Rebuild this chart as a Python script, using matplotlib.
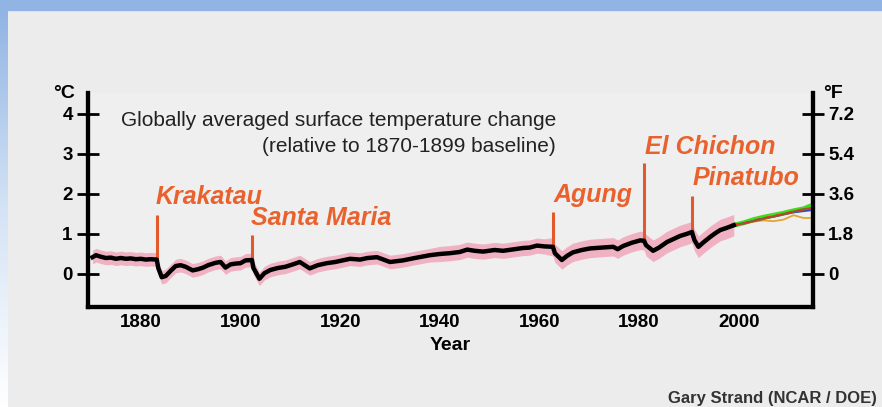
import numpy as np
import matplotlib
matplotlib.use('Agg')
import matplotlib.pyplot as plt
from matplotlib.colors import LinearSegmentedColormap

plt.rcParams['font.family'] = ['Liberation Sans', 'DejaVu Sans']

# observed global temperature change (deg C, relative to 1870-1899)
temp_years = [1870.3, 1871, 1872, 1873, 1874, 1875, 1876, 1877, 1878, 1879,
              1880, 1881, 1882, 1883.2, 1883.5, 1884.2, 1885, 1886, 1887, 1888,
              1889, 1890.4, 1891.5, 1892.5, 1893.5, 1895, 1896, 1897, 1898, 1899,
              1900, 1901, 1902.3, 1902.6, 1903.8, 1904.8, 1906, 1907.5, 1909, 1910.5,
              1911.9, 1913.9, 1915.5, 1917.3, 1919, 1922, 1924, 1925.5, 1927.4, 1930,
              1932.6, 1935, 1938, 1940, 1942, 1944, 1945.5, 1947, 1948.7, 1951,
              1952.7, 1955, 1956.7, 1958, 1959.5, 1961, 1962.7, 1963.1, 1964.5, 1965.5,
              1966.7, 1968.5, 1970.2, 1972.5, 1974.8, 1975.7, 1976.8, 1978.5, 1980.2, 1981,
              1981.4, 1982.8, 1984, 1985.6, 1987, 1988.2, 1989.5, 1990.6, 1991.1, 1991.9,
              1993, 1994.3, 1995.3, 1996.3, 1997.5, 1999]
temp_vals = [0.42, 0.47, 0.43, 0.40, 0.41, 0.38, 0.40, 0.38, 0.39, 0.37,
             0.38, 0.36, 0.37, 0.36, 0.15, -0.08, -0.05, 0.08, 0.20, 0.22,
             0.18, 0.09, 0.12, 0.16, 0.22, 0.28, 0.30, 0.16, 0.24, 0.26,
             0.27, 0.34, 0.35, 0.15, -0.12, 0.02, 0.10, 0.15, 0.18, 0.24,
             0.30, 0.14, 0.22, 0.27, 0.30, 0.38, 0.36, 0.40, 0.42, 0.30,
             0.34, 0.40, 0.47, 0.50, 0.52, 0.55, 0.61, 0.58, 0.56, 0.60,
             0.58, 0.62, 0.65, 0.66, 0.71, 0.69, 0.68, 0.52, 0.35, 0.45,
             0.54, 0.60, 0.64, 0.66, 0.68, 0.62, 0.70, 0.78, 0.84, 0.83,
             0.72, 0.58, 0.66, 0.80, 0.88, 0.95, 1.00, 1.05, 0.85, 0.68,
             0.80, 0.93, 1.02, 1.10, 1.15, 1.22]
band_half = [0.17] * 53 + [0.19] * 13 + [0.23] * 14 + [0.27] * 16

# model projections after 2000
proj_years = [1999, 2001, 2003, 2005, 2007, 2009, 2011, 2013, 2015]
proj_green = [1.22, 1.28, 1.36, 1.42, 1.47, 1.52, 1.58, 1.63, 1.73]
proj_brown = [1.22, 1.26, 1.32, 1.38, 1.44, 1.50, 1.56, 1.62, 1.65]
proj_red = [1.22, 1.27, 1.34, 1.40, 1.45, 1.49, 1.56, 1.60, 1.64]
proj_blue = [1.22, 1.27, 1.33, 1.39, 1.43, 1.49, 1.54, 1.57, 1.60]
proj_orange = [1.22, 1.27, 1.31, 1.34, 1.32, 1.36, 1.47, 1.40, 1.40]

# eruptions
volcanoes = ['Krakatau', 'Santa Maria', 'Agung', 'El Chichon', 'Pinatubo']
volcano_years = [1883.2, 1902.4, 1962.8, 1981.0, 1990.7]
volcano_base = [0.36, 0.35, 0.68, 0.83, 1.05]
volcano_top = [1.48, 0.98, 1.56, 2.78, 1.95]
label_x = [1883.0, 1902.2, 1962.9, 1981.2, 1990.8]
label_y = [1.93, 1.40, 1.98, 3.18, 2.40]

c_ticks = [0, 1, 2, 3, 4]
f_labels = ['0', '1.8', '3.6', '5.4', '7.2']
year_ticks = [1880, 1900, 1920, 1940, 1960, 1980, 2000]

W, H = 882, 407
fig = plt.figure(figsize=(W / 100, H / 100), dpi=100, facecolor='#ececec')

# blue frame on top and left
fig.patches.append(plt.Rectangle((0, 1 - 10 / H), 1, 10 / H, transform=fig.transFigure,
                                 color='#91b4e4', zorder=0))
strip = fig.add_axes([0, 0, 8 / W, 1 - 10 / H])
cmap = LinearSegmentedColormap.from_list('strip', ['#91b4e4', '#d4e3f5', '#ffffff'])
strip.imshow(np.linspace(0, 1, 200).reshape(-1, 1), aspect='auto', cmap=cmap)
strip.axis('off')

ax = fig.add_axes([88 / W, 100 / H, (813 - 88) / W, (314 - 100) / H])
ax.set_facecolor('#efefef')

t = np.array(temp_vals)
b = np.array(band_half)
ax.fill_between(temp_years, t - b, t + b, color='#f0b2c3', lw=0, zorder=1)

ax.vlines(volcano_years, volcano_base, volcano_top, color='#e4592b', lw=2.2, zorder=2)

ax.plot(proj_years, proj_orange, color='#e3a533', lw=1.3, zorder=3)
ax.plot(proj_years, proj_green, color='#3fdc1f', lw=3.5, zorder=3)
ax.plot(proj_years, proj_blue, color='#2c4fb8', lw=1.3, zorder=3)
ax.plot(proj_years, proj_brown, color='#9a5a2c', lw=1.6, zorder=4)
ax.plot(proj_years, proj_red, color='#d8352a', lw=1.3, ls=(0, (3, 3)), zorder=4)

ax.plot(temp_years, temp_vals, color='black', lw=3.2, zorder=5)

for name, x, y in zip(volcanoes, label_x, label_y):
    ax.text(x, y, name, color='#e9622d', fontsize=18, fontweight='bold',
            style='italic', ha='left', va='center', zorder=6)

ax.text(1963.3, 3.83, 'Globally averaged surface temperature change', fontsize=15,
        color='#222222', ha='right', va='center')
ax.text(1963.3, 3.18, '(relative to 1870-1899 baseline)', fontsize=15,
        color='#222222', ha='right', va='center')

ax.set_xlim(1869.4, 2014.9)
ax.set_ylim(-0.825, 4.525)
ax.set_xticks(year_ticks)
ax.set_xticklabels([str(y) for y in year_ticks], fontsize=13.5, fontweight='bold')
ax.tick_params(axis='x', length=0, pad=5)
ax.set_yticks(c_ticks)
ax.set_yticklabels([str(c) for c in c_ticks], fontsize=13.5, fontweight='bold')
ax.tick_params(axis='y', direction='inout', length=16, width=2, pad=3)
ax.set_xlabel('Year', fontsize=14, fontweight='bold', labelpad=4)

ax2 = ax.twinx()
ax2.set_ylim(ax.get_ylim())
ax2.set_yticks(c_ticks)
ax2.set_yticklabels(f_labels, fontsize=13.5, fontweight='bold')
ax2.tick_params(axis='y', direction='inout', length=16, width=2, pad=3)

for a in (ax, ax2):
    a.spines['top'].set_visible(False)
    for s in ('left', 'right', 'bottom'):
        a.spines[s].set_linewidth(3)

fig.text(64 / W, 1 - 93 / H, '°C', fontsize=14, fontweight='bold', ha='center', va='center')
fig.text(833 / W, 1 - 93 / H, '°F', fontsize=14, fontweight='bold', ha='center', va='center')
fig.text(877 / W, 1 - 398 / H, 'Gary Strand (NCAR / DOE)', fontsize=12, fontweight='bold',
         color='#333333', ha='right', va='center')

fig.savefig('out.png', dpi=100, facecolor=fig.get_facecolor())
